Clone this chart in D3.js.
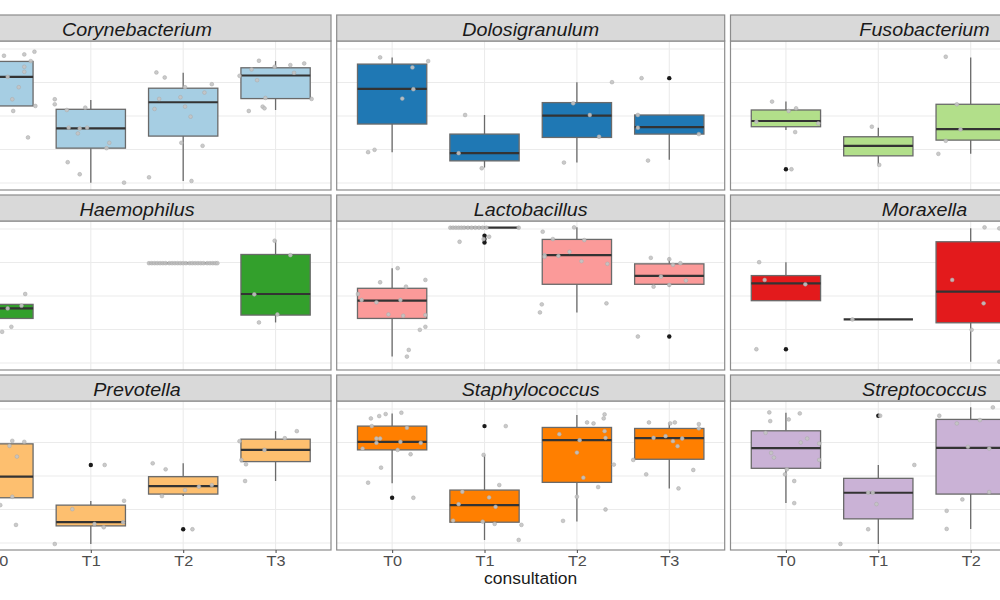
<!DOCTYPE html>
<html>
<head>
<meta charset="utf-8">
<script src="https://cdn.jsdelivr.net/npm/d3@7"></script>
<style>
  html, body { margin: 0; padding: 0; background: #ffffff; }
  svg { display: block; font-family: "Liberation Sans", Arial, Helvetica, sans-serif; }
</style>
</head>
<body>
<svg id="chart" width="1000" height="600"></svg>
<script>
// ---------------- data ----------------
const categories = ["T0", "T1", "T2", "T3"];
const genera = ["Corynebacterium", "Dolosigranulum", "Fusobacterium",
                "Haemophilus", "Lactobacillus", "Moraxella",
                "Prevotella", "Staphylococcus", "Streptococcus"];
const palette = ["#A6CEE3", "#1F78B4", "#B2DF8A", "#33A02C", "#FB9A99",
                 "#E31A1C", "#FDBF6F", "#FF7F00", "#CAB2D6"];
const xTitle = "consultation";

// box stats per consultation: [lower whisker, q1, median, q3, upper whisker]
const corynebacteriumBox = [[1.36, 2.30, 3.17, 3.63, 3.92], [0.01, 1.04, 1.63, 2.20, 2.48], [0.06, 1.40, 2.41, 2.83, 3.29], [2.18, 2.52, 3.21, 3.44, 3.64]];
const dolosigranulumBox = [[0.92, 1.76, 2.81, 3.55, 3.75], [0.46, 0.66, 0.89, 1.46, 2.03], [0.61, 1.36, 2.01, 2.40, 3.01], [0.69, 1.46, 1.67, 2.03, 2.03]];
const fusobacteriumBox = [[1.58, 1.68, 1.85, 2.18, 2.43], [0.56, 0.81, 1.11, 1.38, 1.65], [0.87, 1.28, 1.61, 2.35, 3.75], null];
const haemophilusBox = [[0.93, 1.33, 1.63, 1.75, 2.06], null, [2.98, 2.98, 2.98, 2.98, 2.98], [1.21, 1.43, 2.06, 3.24, 3.67]];
const lactobacillusBox = [[0.19, 1.33, 1.86, 2.23, 2.83], [4.04, 4.04, 4.04, 4.04, 4.04], [1.51, 2.35, 3.22, 3.69, 4.05], [2.28, 2.35, 2.60, 2.96, 3.14]];
const moraxellaBox = [[1.86, 1.86, 2.38, 2.61, 3.01], [1.30, 1.30, 1.30, 1.30, 1.30], [0.04, 1.20, 2.13, 3.62, 4.02], null];
const prevotellaBox = [[0.54, 1.35, 1.98, 2.96, 3.05], [-0.03, 0.51, 0.62, 1.13, 1.25], [1.40, 1.46, 1.70, 1.98, 2.38], [1.85, 2.43, 2.78, 3.10, 3.34]];
const staphylococcusBox = [[1.78, 2.78, 3.02, 3.49, 3.87], [0.09, 0.62, 1.13, 1.58, 2.63], [0.64, 1.81, 3.07, 3.45, 3.82], [1.63, 2.50, 3.13, 3.42, 3.59]];
const streptococcusBox = [[1.19, 2.23, 2.83, 3.35, 3.89], [-0.03, 0.72, 1.50, 1.93, 2.33], [0.42, 1.46, 2.84, 3.69, 4.05], null];

// boxplot outliers: [consultation index, value]
const corynebacteriumOut = [];
const dolosigranulumOut = [[3, 3.13]];
const fusobacteriumOut = [[0, 0.41]];
const haemophilusOut = [];
const lactobacillusOut = [[1, 3.80], [1, 3.70], [1, 3.60], [3, 0.79]];
const moraxellaOut = [[0, 0.41]];
const prevotellaOut = [[1, 2.33], [2, 0.41]];
const staphylococcusOut = [[0, 1.35], [1, 3.49]];
const streptococcusOut = [[1, 3.80]];

// jittered samples: [consultation index, jitter (in category widths), value]
const corynebacteriumPts = [
  [0, 0.06, 3.80], [0, 0.28, 3.84], [0, 0.39, 3.92], [0, 0.35, 3.64], [0, 0.28, 3.47], [0, 0.28, 3.32], [0, 0.10, 3.17], [0, 0.22, 2.86], [0, 0.15, 2.50], [0, 0.40, 2.30], [0, 0.16, 2.15], [0, 0.32, 1.36],
  [1, -0.39, 2.50], [1, -0.39, 2.35], [1, -0.26, 2.18], [1, -0.06, 2.25], [1, -0.24, 1.65], [1, -0.12, 1.63], [1, -0.04, 1.65], [1, -0.14, 1.48], [1, 0.20, 1.20], [1, 0.17, 1.04], [1, -0.25, 0.62], [1, -0.12, 0.26], [1, 0.36, 0.01],
  [2, -0.29, 3.30], [2, -0.20, 3.15], [2, 0.02, 2.86], [2, 0.31, 2.95], [2, 0.23, 2.70], [2, -0.26, 2.51], [2, -0.03, 2.56], [2, -0.31, 2.21], [2, 0.02, 2.28], [2, 0.08, 1.98], [2, -0.02, 1.20], [2, 0.21, 1.11], [2, -0.37, 0.17], [2, 0.09, 0.06],
  [3, -0.18, 3.65], [3, -0.01, 3.47], [3, 0.16, 3.52], [3, 0.31, 3.57], [3, -0.26, 3.39], [3, -0.39, 3.20], [3, -0.20, 3.07], [3, 0.20, 3.29], [3, -0.11, 2.54], [3, 0.39, 2.51], [3, -0.29, 2.15], [3, -0.14, 2.28], [3, -0.12, 2.23]];
const dolosigranulumPts = [
  [0, -0.13, 3.75], [0, 0.39, 3.64], [0, 0.22, 3.45], [0, 0.23, 2.80], [0, 0.11, 2.52], [0, -0.26, 0.92], [0, -0.19, 0.99],
  [1, -0.21, 2.03], [1, -0.28, 0.89], [1, -0.03, 0.44],
  [2, 0.38, 3.01], [2, -0.04, 2.38], [2, 0.14, 2.03], [2, 0.24, 1.38], [2, -0.14, 0.61],
  [3, -0.30, 3.13], [3, -0.34, 2.03], [3, -0.34, 1.65], [3, 0.32, 1.46], [3, -0.23, 0.67]];
const fusobacteriumPts = [
  [0, -0.15, 2.43], [0, 0.03, 2.15], [0, 0.11, 2.23], [0, -0.32, 1.83], [0, 0.35, 1.78], [0, 0.10, 1.52], [0, 0.06, 0.41],
  [1, -0.07, 1.68], [1, 0.01, 0.54],
  [2, -0.27, 3.77], [2, -0.15, 2.35], [2, -0.11, 1.60], [2, -0.27, 1.26], [2, -0.35, 0.87]];
const haemophilusPts = [
  [0, 0.29, 2.06], [0, 0.10, 1.63], [0, 0.25, 1.71], [0, 0.14, 1.08], [0, 0.04, 0.93],
  [2, -0.37, 2.98], [2, -0.34, 2.98], [2, -0.31, 2.98], [2, -0.28, 2.98], [2, -0.25, 2.98], [2, -0.22, 2.98], [2, -0.19, 2.98], [2, -0.15, 2.98], [2, -0.12, 2.98], [2, -0.09, 2.98], [2, -0.06, 2.98], [2, -0.03, 2.98], [2, 0.00, 2.98],
  [2, 0.03, 2.98], [2, 0.07, 2.98], [2, 0.10, 2.98], [2, 0.13, 2.98], [2, 0.16, 2.98], [2, 0.19, 2.98], [2, 0.22, 2.98], [2, 0.26, 2.98], [2, 0.29, 2.98], [2, 0.32, 2.98], [2, 0.35, 2.98], [2, 0.37, 2.98],
  [3, -0.01, 3.65], [3, 0.16, 3.22], [3, -0.23, 2.05], [3, 0.02, 1.45], [3, -0.18, 1.21]];
const lactobacillusPts = [
  [0, 0.06, 2.83], [0, -0.13, 2.41], [0, 0.36, 2.48], [0, 0.15, 2.28], [0, -0.37, 2.06], [0, -0.33, 1.88], [0, -0.17, 1.81], [0, 0.09, 1.88], [0, -0.04, 1.45], [0, 0.12, 1.41], [0, 0.36, 1.43], [0, 0.30, 0.99], [0, 0.36, 1.08], [0, 0.18, 0.39], [0, 0.16, 0.19],
  [1, -0.37, 4.04], [1, -0.34, 4.04], [1, -0.31, 4.04], [1, -0.28, 4.04], [1, -0.25, 4.04], [1, -0.22, 4.04], [1, -0.18, 4.04], [1, -0.14, 4.04], [1, -0.10, 4.04], [1, -0.06, 4.04], [1, -0.02, 4.04], [1, 0.02, 4.04], [1, 0.37, 4.04], [1, -0.27, 3.62], [1, 0.05, 3.77], [1, -0.01, 3.70],
  [2, -0.37, 3.92], [2, -0.03, 4.05], [2, -0.26, 3.70], [2, 0.08, 3.67], [2, -0.35, 3.22], [2, -0.35, 3.17], [2, -0.20, 3.20], [2, -0.08, 3.32], [2, 0.05, 3.04], [2, 0.33, 2.96], [2, -0.38, 1.75], [2, -0.40, 1.51], [2, 0.32, 1.78],
  [3, -0.20, 3.14], [3, 0.00, 3.10], [3, 0.04, 2.93], [3, 0.12, 2.98], [3, -0.09, 2.58], [3, -0.17, 2.28], [3, 0.00, 2.33], [3, 0.18, 2.46], [3, -0.34, 0.79]];
const moraxellaPts = [
  [0, -0.29, 3.01], [0, -0.23, 2.48], [0, 0.21, 2.35], [0, -0.32, 0.41],
  [1, -0.28, 1.30],
  [2, -0.20, 2.48], [2, 0.14, 1.78], [2, 0.15, 4.05], [2, 0.31, 4.02], [2, 0.01, 0.99], [2, 0.31, 0.04]];
const prevotellaPts = [
  [0, 0.15, 3.05], [0, 0.28, 3.02], [0, 0.12, 2.90], [0, 0.20, 2.58], [0, 0.15, 1.38], [0, 0.19, 0.54], [0, 0.02, 1.13],
  [1, 0.15, 2.33], [1, -0.20, 1.01], [1, 0.36, 1.26], [1, 0.04, 0.57], [1, 0.14, 0.47], [1, 0.35, 0.62], [1, -0.39, -0.03],
  [2, -0.33, 2.38], [2, -0.19, 2.20], [2, -0.23, 1.40], [2, 0.02, 1.58], [2, 0.17, 1.68], [2, 0.31, 1.73], [2, 0.10, 0.41],
  [3, 0.23, 3.34], [3, 0.10, 3.13], [3, -0.39, 3.04], [3, -0.12, 2.78], [3, -0.37, 2.48], [3, -0.32, 2.35], [3, -0.33, 1.85]];
const staphylococcusPts = [
  [0, -0.23, 3.72], [0, -0.14, 3.79], [0, -0.07, 3.85], [0, 0.10, 3.89], [0, -0.22, 3.49], [0, 0.16, 3.44], [0, -0.17, 3.12], [0, -0.13, 3.12], [0, -0.17, 2.99], [0, 0.09, 3.02], [0, 0.31, 2.99], [0, -0.32, 2.82], [0, 0.06, 2.78], [0, 0.20, 2.65], [0, -0.12, 2.25], [0, -0.26, 1.80], [0, 0.23, 1.35],
  [1, 0.23, 3.49], [1, -0.01, 2.63], [1, 0.16, 1.73], [1, -0.24, 1.53], [1, 0.05, 1.36], [1, -0.28, 1.16], [1, 0.12, 1.08], [1, -0.34, 0.67], [1, -0.02, 0.64], [1, 0.11, 0.57], [1, 0.40, 0.54], [1, 0.37, 0.09],
  [2, 0.30, 3.84], [2, 0.29, 3.72], [2, 0.11, 3.60], [2, 0.18, 3.57], [2, -0.19, 3.25], [2, 0.30, 3.34], [2, 0.31, 3.14], [2, 0.03, 3.07], [2, 0.00, 2.70], [2, 0.40, 2.34], [2, 0.07, 1.95], [2, 0.23, 1.67], [2, 0.00, 1.38], [2, 0.31, 1.00], [2, -0.15, 0.66],
  [3, -0.22, 3.60], [3, 0.01, 3.57], [3, 0.06, 3.60], [3, 0.32, 3.55], [3, 0.32, 3.42], [3, -0.17, 3.14], [3, -0.04, 3.19], [3, 0.04, 3.04], [3, 0.14, 3.12], [3, 0.09, 2.89], [3, -0.39, 2.48], [3, -0.25, 2.05], [3, 0.26, 2.18], [3, 0.10, 1.63]];
const streptococcusPts = [
  [0, -0.18, 3.90], [0, 0.15, 3.87], [0, -0.17, 3.64], [0, 0.03, 3.69], [0, -0.22, 3.29], [0, 0.23, 3.12], [0, 0.16, 3.00], [0, 0.36, 2.97], [0, -0.16, 2.69], [0, -0.13, 2.55], [0, 0.36, 2.48], [0, 0.01, 2.20], [0, -0.01, 2.05], [0, 0.09, 1.85], [0, 0.09, 1.19],
  [1, 0.02, 3.80], [1, 0.39, 2.33], [1, -0.11, 1.50], [1, -0.06, 1.50], [1, -0.02, 1.16], [1, -0.11, 0.41], [1, -0.41, -0.03],
  [2, 0.24, 4.05], [2, -0.34, 3.80], [2, -0.15, 3.57], [2, 0.10, 3.67], [2, -0.03, 2.87], [2, 0.20, 2.82], [2, 0.20, 1.52], [2, -0.09, 1.30], [2, -0.26, 0.96], [2, -0.26, 0.42]];

const panelBoxes = [corynebacteriumBox, dolosigranulumBox, fusobacteriumBox, haemophilusBox, lactobacillusBox, moraxellaBox, prevotellaBox, staphylococcusBox, streptococcusBox];
const panelOutliers = [corynebacteriumOut, dolosigranulumOut, fusobacteriumOut, haemophilusOut, lactobacillusOut, moraxellaOut, prevotellaOut, staphylococcusOut, streptococcusOut];
const panelPoints = [corynebacteriumPts, dolosigranulumPts, fusobacteriumPts, haemophilusPts, lactobacillusPts, moraxellaPts, prevotellaPts, staphylococcusPts, streptococcusPts];
const yTicks = [0, 1, 2, 3, 4];

// ---------------- layout ----------------
const colX = [-57, 336.7, 730.5];
const colW = 388;
const stripTop = [15, 195, 375];
const stripH = 26;
const panelH = 149;
const yDomain = [-0.21, 4.24];
const textStretch = 1.12;

const svg = d3.select("#chart");
const defs = svg.append("defs");

genera.forEach((name, i) => {
  const col = i % 3, row = Math.floor(i / 3);
  const x0 = colX[col];
  const sTop = stripTop[row];
  const pTop = sTop + stripH;

  const x = d3.scalePoint().domain(categories).range([x0, x0 + colW]).padding(0.6);
  const step = x.step();
  const y = d3.scaleLinear().domain(yDomain).range([pTop + panelH, pTop]);
  const boxW = step * 0.75;

  const clipId = "clip" + i;
  defs.append("clipPath").attr("id", clipId)
    .append("rect").attr("x", x0).attr("y", pTop).attr("width", colW).attr("height", panelH);

  const g = svg.append("g");

  g.append("rect").attr("x", x0).attr("y", pTop).attr("width", colW).attr("height", panelH)
    .attr("fill", "#ffffff");

  const plot = g.append("g").attr("clip-path", `url(#${clipId})`);

  // grid lines
  plot.selectAll("line.hgrid").data(yTicks).join("line")
    .attr("x1", x0).attr("x2", x0 + colW)
    .attr("y1", d => y(d)).attr("y2", d => y(d))
    .attr("stroke", "#ebebeb").attr("stroke-width", 1.1);
  plot.selectAll("line.vgrid").data(categories).join("line")
    .attr("x1", d => x(d)).attr("x2", d => x(d))
    .attr("y1", pTop).attr("y2", pTop + panelH)
    .attr("stroke", "#ebebeb").attr("stroke-width", 1.1);

  const boxes = panelBoxes[i]
    .map((b, k) => b ? { cat: categories[k], lo: b[0], q1: b[1], med: b[2], q3: b[3], hi: b[4] } : null)
    .filter(d => d);

  // outliers (black)
  plot.selectAll("circle.out").data(panelOutliers[i]).join("circle")
    .attr("cx", d => x(categories[d[0]]))
    .attr("cy", d => y(d[1]))
    .attr("r", 2.2)
    .attr("fill", "#1a1a1a");

  // whiskers
  plot.selectAll("line.wup").data(boxes).join("line")
    .attr("x1", d => x(d.cat)).attr("x2", d => x(d.cat))
    .attr("y1", d => y(d.q3)).attr("y2", d => y(d.hi))
    .attr("stroke", "#6a6a6a").attr("stroke-width", 1.3);
  plot.selectAll("line.wlo").data(boxes).join("line")
    .attr("x1", d => x(d.cat)).attr("x2", d => x(d.cat))
    .attr("y1", d => y(d.q1)).attr("y2", d => y(d.lo))
    .attr("stroke", "#6a6a6a").attr("stroke-width", 1.3);

  // boxes
  plot.selectAll("rect.box").data(boxes).join("rect")
    .attr("x", d => x(d.cat) - boxW / 2)
    .attr("width", boxW)
    .attr("y", d => y(d.q3))
    .attr("height", d => Math.max(0, y(d.q1) - y(d.q3)))
    .attr("fill", palette[i])
    .attr("stroke", "#6a6a6a").attr("stroke-width", 1.3);

  // medians
  plot.selectAll("line.med").data(boxes).join("line")
    .attr("x1", d => x(d.cat) - boxW / 2).attr("x2", d => x(d.cat) + boxW / 2)
    .attr("y1", d => y(d.med)).attr("y2", d => y(d.med))
    .attr("stroke", "#333333").attr("stroke-width", 2.2);

  // jittered points (gray)
  plot.selectAll("circle.pt").data(panelPoints[i]).join("circle")
    .attr("cx", d => x(categories[d[0]]) + d[1] * step)
    .attr("cy", d => y(d[2]))
    .attr("r", 1.9)
    .attr("fill", "#c4c4c4")
    .attr("fill-opacity", 0.9)
    .attr("stroke", "#a8a8a8").attr("stroke-width", 0.5);

  // panel border
  g.append("rect").attr("x", x0).attr("y", pTop).attr("width", colW).attr("height", panelH)
    .attr("fill", "none").attr("stroke", "#8c8c8c").attr("stroke-width", 1.2);

  // strip
  g.append("rect").attr("x", x0).attr("y", sTop).attr("width", colW).attr("height", stripH)
    .attr("fill", "#d9d9d9").attr("stroke", "#8c8c8c").attr("stroke-width", 1.2);
  g.append("text")
    .attr("transform", `translate(${x0 + colW / 2},${sTop + 21}) scale(${textStretch},1)`)
    .attr("text-anchor", "middle")
    .attr("font-style", "italic")
    .attr("font-size", 17.6)
    .attr("fill", "#1a1a1a")
    .text(name);

  // x axis on bottom row
  if (row === 2) {
    const ax = g.append("g").attr("transform", `translate(0,${pTop + panelH})`)
      .call(d3.axisBottom(x).tickSize(3).tickPadding(3));
    ax.attr("font-size", 14.5).attr("font-family", "'Liberation Sans', Arial, sans-serif");
    ax.select(".domain").remove();
    ax.selectAll(".tick line").attr("stroke", "#555555").attr("stroke-width", 1.1);
    ax.selectAll(".tick text")
      .attr("font-size", 14.5)
      .attr("fill", "#4d4d4d")
      .attr("x", 0)
      .attr("transform", `scale(${textStretch},1)`);
  }
});

// axis title
svg.append("text")
  .attr("transform", `translate(${colX[1] + colW / 2},584) scale(${textStretch},1)`)
  .attr("text-anchor", "middle")
  .attr("font-size", 15.6)
  .attr("fill", "#1a1a1a")
  .text(xTitle);
</script>
</body>
</html>
